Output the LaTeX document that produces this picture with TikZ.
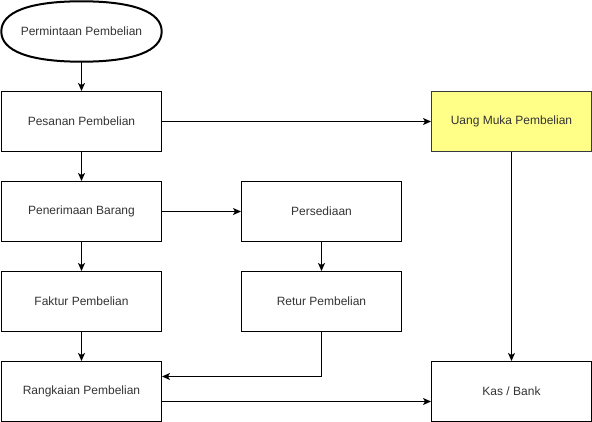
\documentclass[tikz,border=0pt]{standalone}
\usepackage{fontspec}
\setmainfont{Liberation Sans}
\usetikzlibrary{arrows.meta}
\definecolor{ink}{HTML}{000000}
\definecolor{yel}{HTML}{FFFF88}
\definecolor{yelb}{HTML}{36393D}
\definecolor{txt}{HTML}{333333}
\begin{document}
\begin{tikzpicture}[x=1pt,y=-1pt,
  box/.style={draw=ink,line width=1pt,minimum width=160pt,minimum height=60pt,inner sep=0pt,font=\fontsize{12}{14}\selectfont,text=txt},
  ybox/.style={box,fill=yel,draw=yelb},
  termtext/.style={minimum width=160pt,minimum height=60pt,inner sep=0pt,font=\fontsize{12}{14}\selectfont,text=txt},
  termline/.style={draw=ink,line width=2pt},
  arr/.style={draw=ink,line width=1pt,-{Stealth[length=8pt,width=7pt,inset=2pt]}}]
\useasboundingbox (0,0) rectangle (592,422);
\node[termtext] (req) at (81.5,31.5) {Permintaan Pembelian};
\draw[termline] (req.west) .. controls +(0,-19.5) and +(-52,0) .. (req.north)
  .. controls +(52,0) and +(0,-19.5) .. (req.east)
  .. controls +(0,19.5) and +(52,0) .. (req.south)
  .. controls +(-52,0) and +(0,19.5) .. (req.west) -- cycle;
\node[box] (pes) at (81.5,121.5) {Pesanan Pembelian};
\node[box] (pen) at (81.5,211.5) {Penerimaan Barang};
\node[box] (fak) at (81.5,301.5) {Faktur Pembelian};
\node[box] (ran) at (81.5,391.5) {Rangkaian Pembelian};
\node[box] (per) at (321.5,211.5) {Persediaan};
\node[box] (ret) at (321.5,301.5) {Retur Pembelian};
\node[ybox] (uang) at (511.5,121.5) {Uang Muka Pembelian};
\node[box] (kas) at (511.5,391.5) {Kas / Bank};
\draw[arr] (req) -- (pes);
\draw[arr] (pes) -- (pen);
\draw[arr] (pen) -- (fak);
\draw[arr] (fak) -- (ran);
\draw[arr] (pes) -- (uang);
\draw[arr] (pen) -- (per);
\draw[arr] (per) -- (ret);
\draw[arr] (uang) -- (kas);
\coordinate (c1) at (321.5,376.5);
\draw[arr] (ret.south) -- (c1) -- (ran.east |- c1);
\draw[arr] (ran.east |- 0,401.5) -- (kas.west |- 0,401.5);
\end{tikzpicture}
\end{document}
